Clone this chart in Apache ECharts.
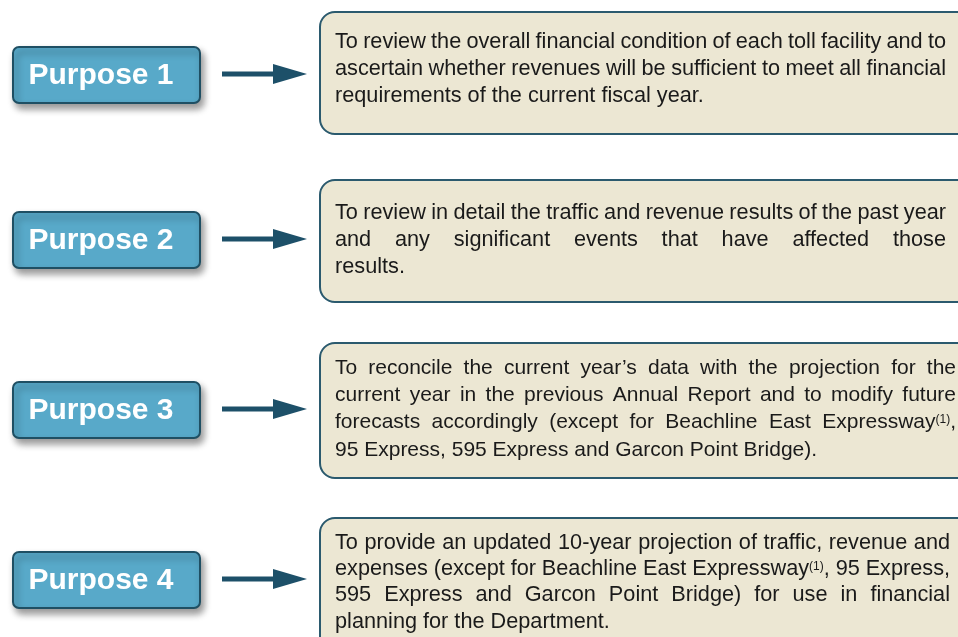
<!DOCTYPE html>
<html>
<head>
<meta charset="utf-8">
<script src="https://cdn.jsdelivr.net/npm/echarts@6/dist/echarts.min.js"></script>
<style>
  html, body { margin: 0; padding: 0; background: #fff; }
  #main { width: 958px; height: 637px; }
</style>
</head>
<body>
<div id="main"></div>
<script>
// labels on the left
const purposeLabels = ['Purpose 1', 'Purpose 2', 'Purpose 3', 'Purpose 4'];

// text of each box, one entry per printed line (^...^ marks a superscript)
const purposeText1 = [
    'To review the overall financial condition of each toll facility and to',
    'ascertain whether revenues will be sufficient to meet all financial',
    'requirements of the current fiscal year.'
];
const purposeText2 = [
    'To review in detail the traffic and revenue results of the past year',
    'and any significant events that have affected those',
    'results.'
];
const purposeText3 = [
    'To reconcile the current year\u2019s data with the projection for the',
    'current year in the previous Annual Report and to modify future',
    'forecasts accordingly (except for Beachline East Expressway^(1)^,',
    '95 Express, 595 Express and Garcon Point Bridge).'
];
const purposeText4 = [
    'To provide an updated 10-year projection of traffic, revenue and',
    'expenses (except for Beachline East Expressway^(1)^, 95 Express,',
    '595 Express and Garcon Point Bridge) for use in financial',
    'planning for the Department.'
];
const purposeTexts = [purposeText1, purposeText2, purposeText3, purposeText4];

// layout of each row
const rows = [
    { labelY: 47, boxTop: 12, boxBottom: 134, base: 49, lh: 27, size: 21.7, right: 946 },
    { labelY: 212, boxTop: 180, boxBottom: 302, base: 220, lh: 27, size: 21.7, right: 946 },
    { labelY: 382, boxTop: 343, boxBottom: 478, base: 375, lh: 27.3, size: 21, right: 956 },
    { labelY: 552, boxTop: 518, boxBottom: 680, base: 550, lh: 26.2, size: 21.7, right: 950 }
];

const FONT = '"Liberation Sans", Arial, sans-serif';
const SUP_SIZE = 12;
const TEXT_LEFT = 335;

const ctx = document.createElement('canvas').getContext('2d');
function measure(t, size) {
    ctx.font = size + 'px ' + FONT;
    return ctx.measureText(t).width;
}

// split a word into normal / superscript pieces
function pieces(word) {
    return word.split('^').map((t, i) => ({ t: t, sup: i % 2 == 1 })).filter(p => p.t.length);
}
function wordWidth(word, size) {
    return pieces(word).reduce((s, p) => s + measure(p.t, p.sup ? SUP_SIZE : size), 0);
}

let elements = [];

rows.forEach((r, i) => {
    // left label box
    elements.push({
        type: 'rect',
        shape: { x: 13, y: r.labelY, width: 187, height: 56, r: 6 },
        style: {
            fill: '#58a9c9', stroke: '#1f4f63', lineWidth: 2,
            shadowColor: 'rgba(0,0,0,0.4)', shadowBlur: 7, shadowOffsetX: 3, shadowOffsetY: 5
        }
    });
    elements.push({
        type: 'text',
        style: {
            text: purposeLabels[i], x: 101, y: r.labelY + 28.5,
            font: 'bold 30px ' + FONT, fill: '#ffffff', align: 'center', verticalAlign: 'middle'
        }
    });

    // arrow
    let ay = r.labelY + 27;
    elements.push({
        type: 'line',
        shape: { x1: 222, y1: ay, x2: 276, y2: ay },
        style: { stroke: '#1d5069', lineWidth: 5 }
    });
    elements.push({
        type: 'polygon',
        shape: { points: [[273, ay - 10], [307, ay], [273, ay + 10]] },
        style: { fill: '#1d5069' }
    });

    // text box
    elements.push({
        type: 'rect',
        shape: { x: 320, y: r.boxTop, width: 700, height: r.boxBottom - r.boxTop, r: 15 },
        style: { fill: '#ece7d3', stroke: '#2b5a6e', lineWidth: 2 }
    });

    // justified lines
    let lines = purposeTexts[i];
    lines.forEach((line, li) => {
        let words = line.split(' ');
        let widths = words.map(w => wordWidth(w, r.size));
        let total = widths.reduce((a, b) => a + b, 0);
        let gap = measure(' ', r.size);
        if (li < lines.length - 1 && words.length > 1) {
            gap = (r.right - TEXT_LEFT - total) / (words.length - 1);
        }
        let baseline = r.base + li * r.lh;
        let x = TEXT_LEFT;
        words.forEach((w, wi) => {
            pieces(w).forEach(p => {
                let sz = p.sup ? SUP_SIZE : r.size;
                elements.push({
                    type: 'text',
                    style: {
                        text: p.t, x: x, y: p.sup ? baseline - 16 : baseline - 7,
                        font: sz + 'px ' + FONT, fill: '#1a1a1a', align: 'left',
                        verticalAlign: p.sup ? 'top' : 'middle'
                    }
                });
                x += measure(p.t, sz);
            });
            x += gap;
        });
    });
});

let chart = echarts.init(document.getElementById('main'));
chart.setOption({
    backgroundColor: '#ffffff',
    graphic: { elements: elements }
});
</script>
</body>
</html>
